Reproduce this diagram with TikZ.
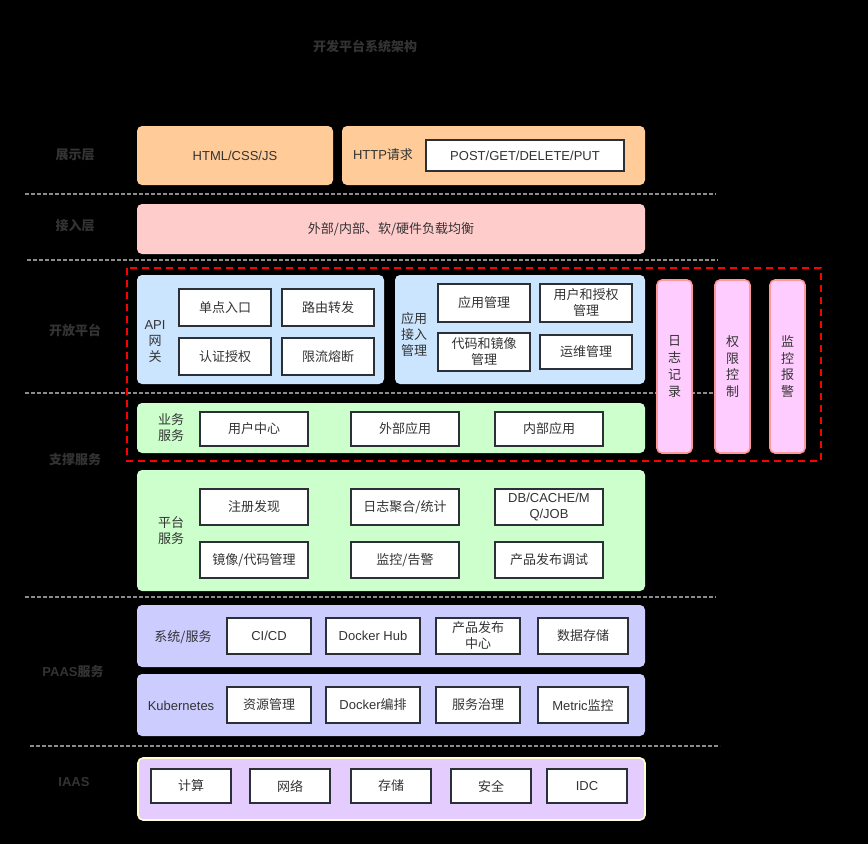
\documentclass[tikz,border=0pt]{standalone}
\usepackage{fontspec}
\setmainfont{Liberation Sans}
\newfontfamily\cjk{Noto Sans CJK SC}
\definecolor{txt}{HTML}{333333}
\definecolor{boxline}{HTML}{2B2F36}
\definecolor{sepgray}{HTML}{8C8C8C}
\definecolor{orangebg}{HTML}{FFCC99}
\definecolor{rosebg}{HTML}{FFCCCC}
\definecolor{bluebg}{HTML}{CCE5FF}
\definecolor{greenbg}{HTML}{CCFFCC}
\definecolor{lavbg}{HTML}{CCCCFF}
\definecolor{purplebg}{HTML}{E5CCFF}
\definecolor{pinkbg}{HTML}{FFCCFF}
\definecolor{pinkline}{HTML}{FF9999}
\definecolor{iaasline}{HTML}{FFFFCC}

\begin{document}
\begin{tikzpicture}[x=1pt,y=-1pt,
    every node/.style={font=\cjk\fontsize{13}{16}\selectfont, text=txt},
    lat/.style={font=\rmfamily\fontsize{13}{16}\selectfont},
    lyr/.style={font=\cjk\bfseries\fontsize{13}{16}\selectfont},
    grp/.style={fill=#1, rounded corners=5pt, inner sep=0pt},
    item/.style={draw=boxline, line width=1.8pt, fill=white, align=center, inner sep=0pt},
    side/.style={draw=pinkline, line width=1.6pt, fill=pinkbg, rounded corners=5pt,
                 align=center, inner sep=0pt, minimum width=35, minimum height=173},
    sep/.style={draw=sepgray, line width=1.2pt, dash pattern=on 4pt off 2pt}]
  \useasboundingbox (0,0) rectangle (868,844);
  \fill[black] (0,0) rectangle (868,844);

  % title and layer names
  \node[lyr] (title) at (365,46) {开发平台系统架构};
  \node[lyr] (l1) at (75,155) {展示层};
  \node[lyr] (l2) at (75,226) {接入层};
  \node[lyr] (l3) at (75,330) {开放平台};
  \node[lyr] (l4) at (75,460) {支撑服务};
  \node[lyr] (l5) at (73,672) {{\rmfamily PAAS}服务};
  \node[font=\rmfamily\bfseries\fontsize{13}{16}\selectfont] (l6) at (74,782) {IAAS};

  % separators
  \draw[sep] (25,194) -- (716,194);
  \draw[sep] (27,260) -- (718,260);
  \draw[sep] (25,393) -- (716,393);
  \draw[sep] (25,597) -- (716,597);
  \draw[sep] (30,746) -- (720,746);

  % presentation
  \node[grp=orangebg, lat, minimum width=196, minimum height=59] (html) at (235,155.5) {HTML/CSS/JS};
  \node[grp=orangebg, minimum width=303, minimum height=59] (http) at (493.5,155.5) {};
  \node (httplbl) at (383,155) {{\rmfamily HTTP}请求};
  \node[item, lat, minimum width=198, minimum height=31] (post) at (525,155.5) {POST/GET/DELETE/PUT};

  % access
  \node[grp=rosebg, minimum width=508, minimum height=50] (lb) at (391,229) {外部/内部、软/硬件负载均衡};

  % open platform
  \node[grp=bluebg, minimum width=247, minimum height=109] (api) at (260.5,329.5) {};
  \node[align=center] (apilbl) at (155,342) {{\rmfamily API}\\网\\关};
  \node[item, minimum width=92, minimum height=37] (sd) at (225,307.5) {单点入口};
  \node[item, minimum width=92, minimum height=37] (ly) at (328,307.5) {路由转发};
  \node[item, minimum width=92, minimum height=37] (rz) at (225,356.5) {认证授权};
  \node[item, minimum width=92, minimum height=37] (xl) at (328,356.5) {限流熔断};

  \node[grp=bluebg, minimum width=250, minimum height=109] (app) at (520,329.5) {};
  \node[align=center] (applbl) at (414,335) {应用\\接入\\管理};
  \node[item, minimum width=92, minimum height=38] (yy) at (484,303) {应用管理};
  \node[item, minimum width=92, minimum height=38] (yh) at (586,303) {用户和授权\\管理};
  \node[item, minimum width=92, minimum height=38] (dm) at (484,352) {代码和镜像\\管理};
  \node[item, minimum width=92, minimum height=34] (yw) at (586,352) {运维管理};

  \node[side, font=\cjk\fontsize{13}{16.7}\selectfont] (rzjl) at (674.5,366.5) {日\\志\\记\\录};
  \node[side, font=\cjk\fontsize{13}{16.7}\selectfont] (qxkz) at (732.5,366.5) {权\\限\\控\\制};
  \node[side, font=\cjk\fontsize{13}{16.7}\selectfont] (jkbj) at (787.5,366.5) {监\\控\\报\\警};

  % support services
  \node[grp=greenbg, minimum width=508, minimum height=50] (biz) at (391,428) {};
  \node[align=center] (bizlbl) at (171,428) {业务\\服务};
  \node[item, minimum width=108, minimum height=34] (yhzx) at (254,429) {用户中心};
  \node[item, minimum width=108, minimum height=34] (wbyy) at (405,429) {外部应用};
  \node[item, minimum width=108, minimum height=34] (nbyy) at (549,429) {内部应用};

  \node[grp=greenbg, minimum width=508, minimum height=121] (plat) at (391,530.5) {};
  \node[align=center] (platlbl) at (171,531) {平台\\服务};
  \node[item, minimum width=108, minimum height=36] (zc) at (254,507) {注册发现};
  \node[item, minimum width=108, minimum height=36] (rzjh) at (405,507) {日志聚合/统计};
  \node[item, lat, minimum width=108, minimum height=36] (db) at (549,507) {DB/CACHE/M\\Q/JOB};
  \node[item, minimum width=108, minimum height=36] (jx) at (254,560) {镜像/代码管理};
  \node[item, minimum width=108, minimum height=36] (jk) at (405,560) {监控/告警};
  \node[item, minimum width=108, minimum height=36] (cp) at (549,560) {产品发布调试};

  % paas
  \node[grp=lavbg, minimum width=508, minimum height=62] (sys) at (391,636) {};
  \node (syslbl) at (183,637) {系统/服务};
  \node[item, lat, minimum width=84, minimum height=36] (cicd) at (269,636) {CI/CD};
  \node[item, lat, minimum width=94, minimum height=36] (hub) at (373,636) {Docker Hub};
  \node[item, minimum width=84, minimum height=36] (fb) at (478,636) {产品发布\\中心};
  \node[item, minimum width=90, minimum height=36] (sj) at (583,636) {数据存储};

  \node[grp=lavbg, minimum width=508, minimum height=62] (k8s) at (391,705) {};
  \node[lat] (k8slbl) at (181,706) {Kubernetes};
  \node[item, minimum width=84, minimum height=36] (zy) at (269,705) {资源管理};
  \node[item, minimum width=94, minimum height=36] (bp) at (373,705) {{\rmfamily Docker}编排};
  \node[item, minimum width=84, minimum height=36] (zl) at (478,705) {服务治理};
  \node[item, minimum width=90, minimum height=36] (mt) at (583,705) {{\rmfamily Metric}监控};

  % iaas
  \node[grp=purplebg, draw=iaasline, line width=1.6pt, minimum width=507, minimum height=62] (iaas) at (391.5,789) {};
  \node[item, minimum width=80, minimum height=34] (js) at (191,786) {计算};
  \node[item, minimum width=80, minimum height=34] (wl) at (290,786) {网络};
  \node[item, minimum width=80, minimum height=34] (cc) at (391,786) {存储};
  \node[item, minimum width=80, minimum height=34] (aq) at (491,786) {安全};
  \node[item, lat, minimum width=80, minimum height=34] (idc) at (587,786) {IDC};

  % open platform frame
  \draw[red, line width=2pt, dash pattern=on 7pt off 5pt] (127,268) rectangle (821,461);
\end{tikzpicture}
\end{document}
